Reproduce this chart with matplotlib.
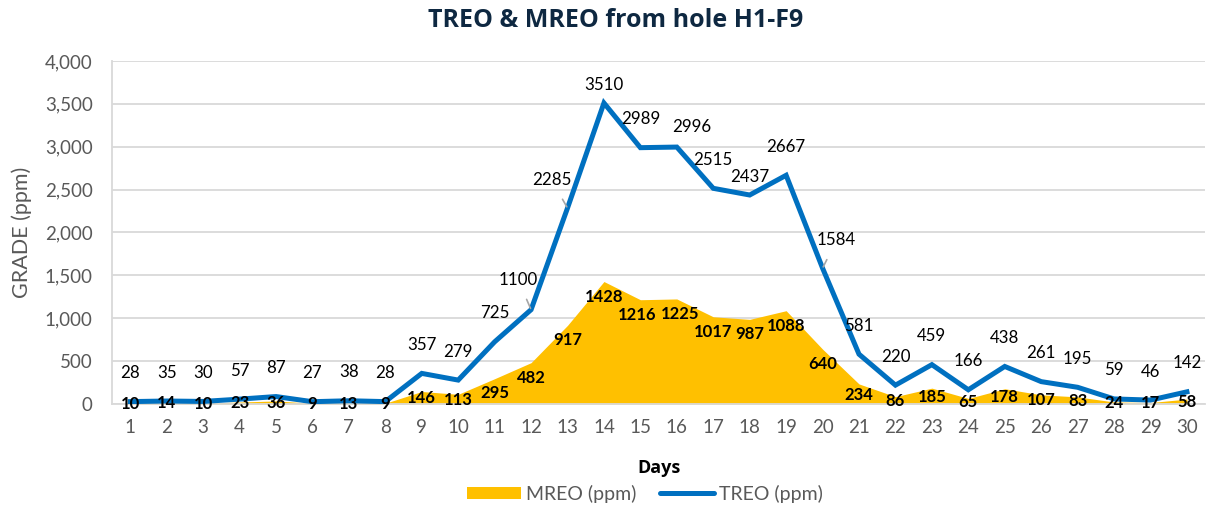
import matplotlib.pyplot as plt
from matplotlib.ticker import FuncFormatter
from matplotlib.lines import Line2D
from matplotlib.patches import Patch

plt.rcParams['font.family'] = ['Lato', 'DejaVu Sans']

days = list(range(1, 31))
treo = [28, 35, 30, 57, 87, 27, 38, 28, 357, 279, 725, 1100, 2285, 3510, 2989,
        2996, 2515, 2437, 2667, 1584, 581, 220, 459, 166, 438, 261, 195, 59, 46, 142]
mreo = [10, 14, 10, 23, 36, 9, 13, 9, 146, 113, 295, 482, 917, 1428, 1216,
        1225, 1017, 987, 1088, 640, 234, 86, 185, 65, 178, 107, 83, 24, 17, 58]

blue = '#0070C0'
gold = '#FFC000'
grid_c = '#D9D9D9'
tick_c = '#595959'

fig = plt.figure(figsize=(12.1, 5.08), dpi=100)
ax = fig.add_axes([0.0926, 0.2047, 0.9034, 0.6753])

ax.fill_between(days, mreo, 0, color=gold, linewidth=0, zorder=2)
ax.plot(days, treo, color=blue, linewidth=3.6, solid_joinstyle='miter', zorder=3)

ax.set_xlim(0.5, 30.5)
ax.set_ylim(0, 4000)
ax.set_yticks(range(0, 4001, 500))
ax.set_xticks(days)
ax.yaxis.set_major_formatter(FuncFormatter(lambda v, p: f'{int(v):,}'))
ax.tick_params(axis='both', length=0, labelsize=13.5, labelcolor=tick_c)
ax.tick_params(axis='x', pad=11)
ax.tick_params(axis='y', pad=14)
ax.grid(axis='y', color=grid_c, linewidth=1.3, zorder=0)
ax.set_axisbelow(True)
for s in ['top', 'right']:
    ax.spines[s].set_visible(False)
ax.spines['left'].set_color(grid_c)
ax.spines['left'].set_linewidth(1.3)
ax.spines['bottom'].set_color(grid_c)
ax.spines['bottom'].set_linewidth(1.3)

ax.set_xlabel('Days', fontsize=13, fontweight='bold', color='black', labelpad=16,
              family=['Open Sans', 'DejaVu Sans'])
ax.set_ylabel('GRADE (ppm)', fontsize=15.5, color=tick_c, labelpad=9)
fig.text(0.509, 0.96, 'TREO & MREO from hole H1-F9', ha='center', va='center',
         fontsize=18, fontweight='bold', color='#0E2841', family=['Open Sans', 'DejaVu Sans'])

# TREO labels: offsets in pixels (dx, dy) from the point
px = 0.72
special = {14: (0, 18), 16: (15, 20), 18: (0, 18)}
leader = {12: (-13, 30), 13: (-16, 28), 20: (14, 28)}
for d, v in zip(days, treo):
    if d in leader:
        dx, dy = leader[d]
        ax.annotate(str(v), xy=(d, v), xytext=(dx * px, dy * px), textcoords='offset points',
                    ha='center', va='center', fontsize=12.2, color='black', zorder=5,
                    arrowprops=dict(arrowstyle='-', color='#A6A6A6', lw=1.2,
                                    shrinkA=7, shrinkB=1))
    else:
        dx, dy = special.get(d, (0, 28.5))
        ax.annotate(str(v), xy=(d, v), xytext=(dx * px, dy * px), textcoords='offset points',
                    ha='center', va='center', fontsize=12.2, color='black', zorder=5)

# MREO labels (bold), sitting a little below each point
unit = 4000 / 343.0
shift = {15: -0.1, 16: 0.1}
for d, v in zip(days, mreo):
    h = v / unit
    yl = max(h - 15, h * 0.45) * unit
    ax.text(d + shift.get(d, 0), yl, str(v), ha='center', va='center', fontsize=12,
            fontweight='bold', color='black', zorder=6)

handles = [Patch(facecolor=gold, edgecolor='none', label='MREO (ppm)'),
           Line2D([0], [0], color=blue, linewidth=3.6, solid_capstyle='round', label='TREO (ppm)')]
fig.legend(handles=handles, loc='center', bbox_to_anchor=(0.533, 0.028), ncol=2, frameon=False,
           fontsize=14, labelcolor=tick_c, handlelength=2.8, handleheight=0.6,
           columnspacing=1.2, handletextpad=0.25)

fig.savefig('out.png', dpi=100)
